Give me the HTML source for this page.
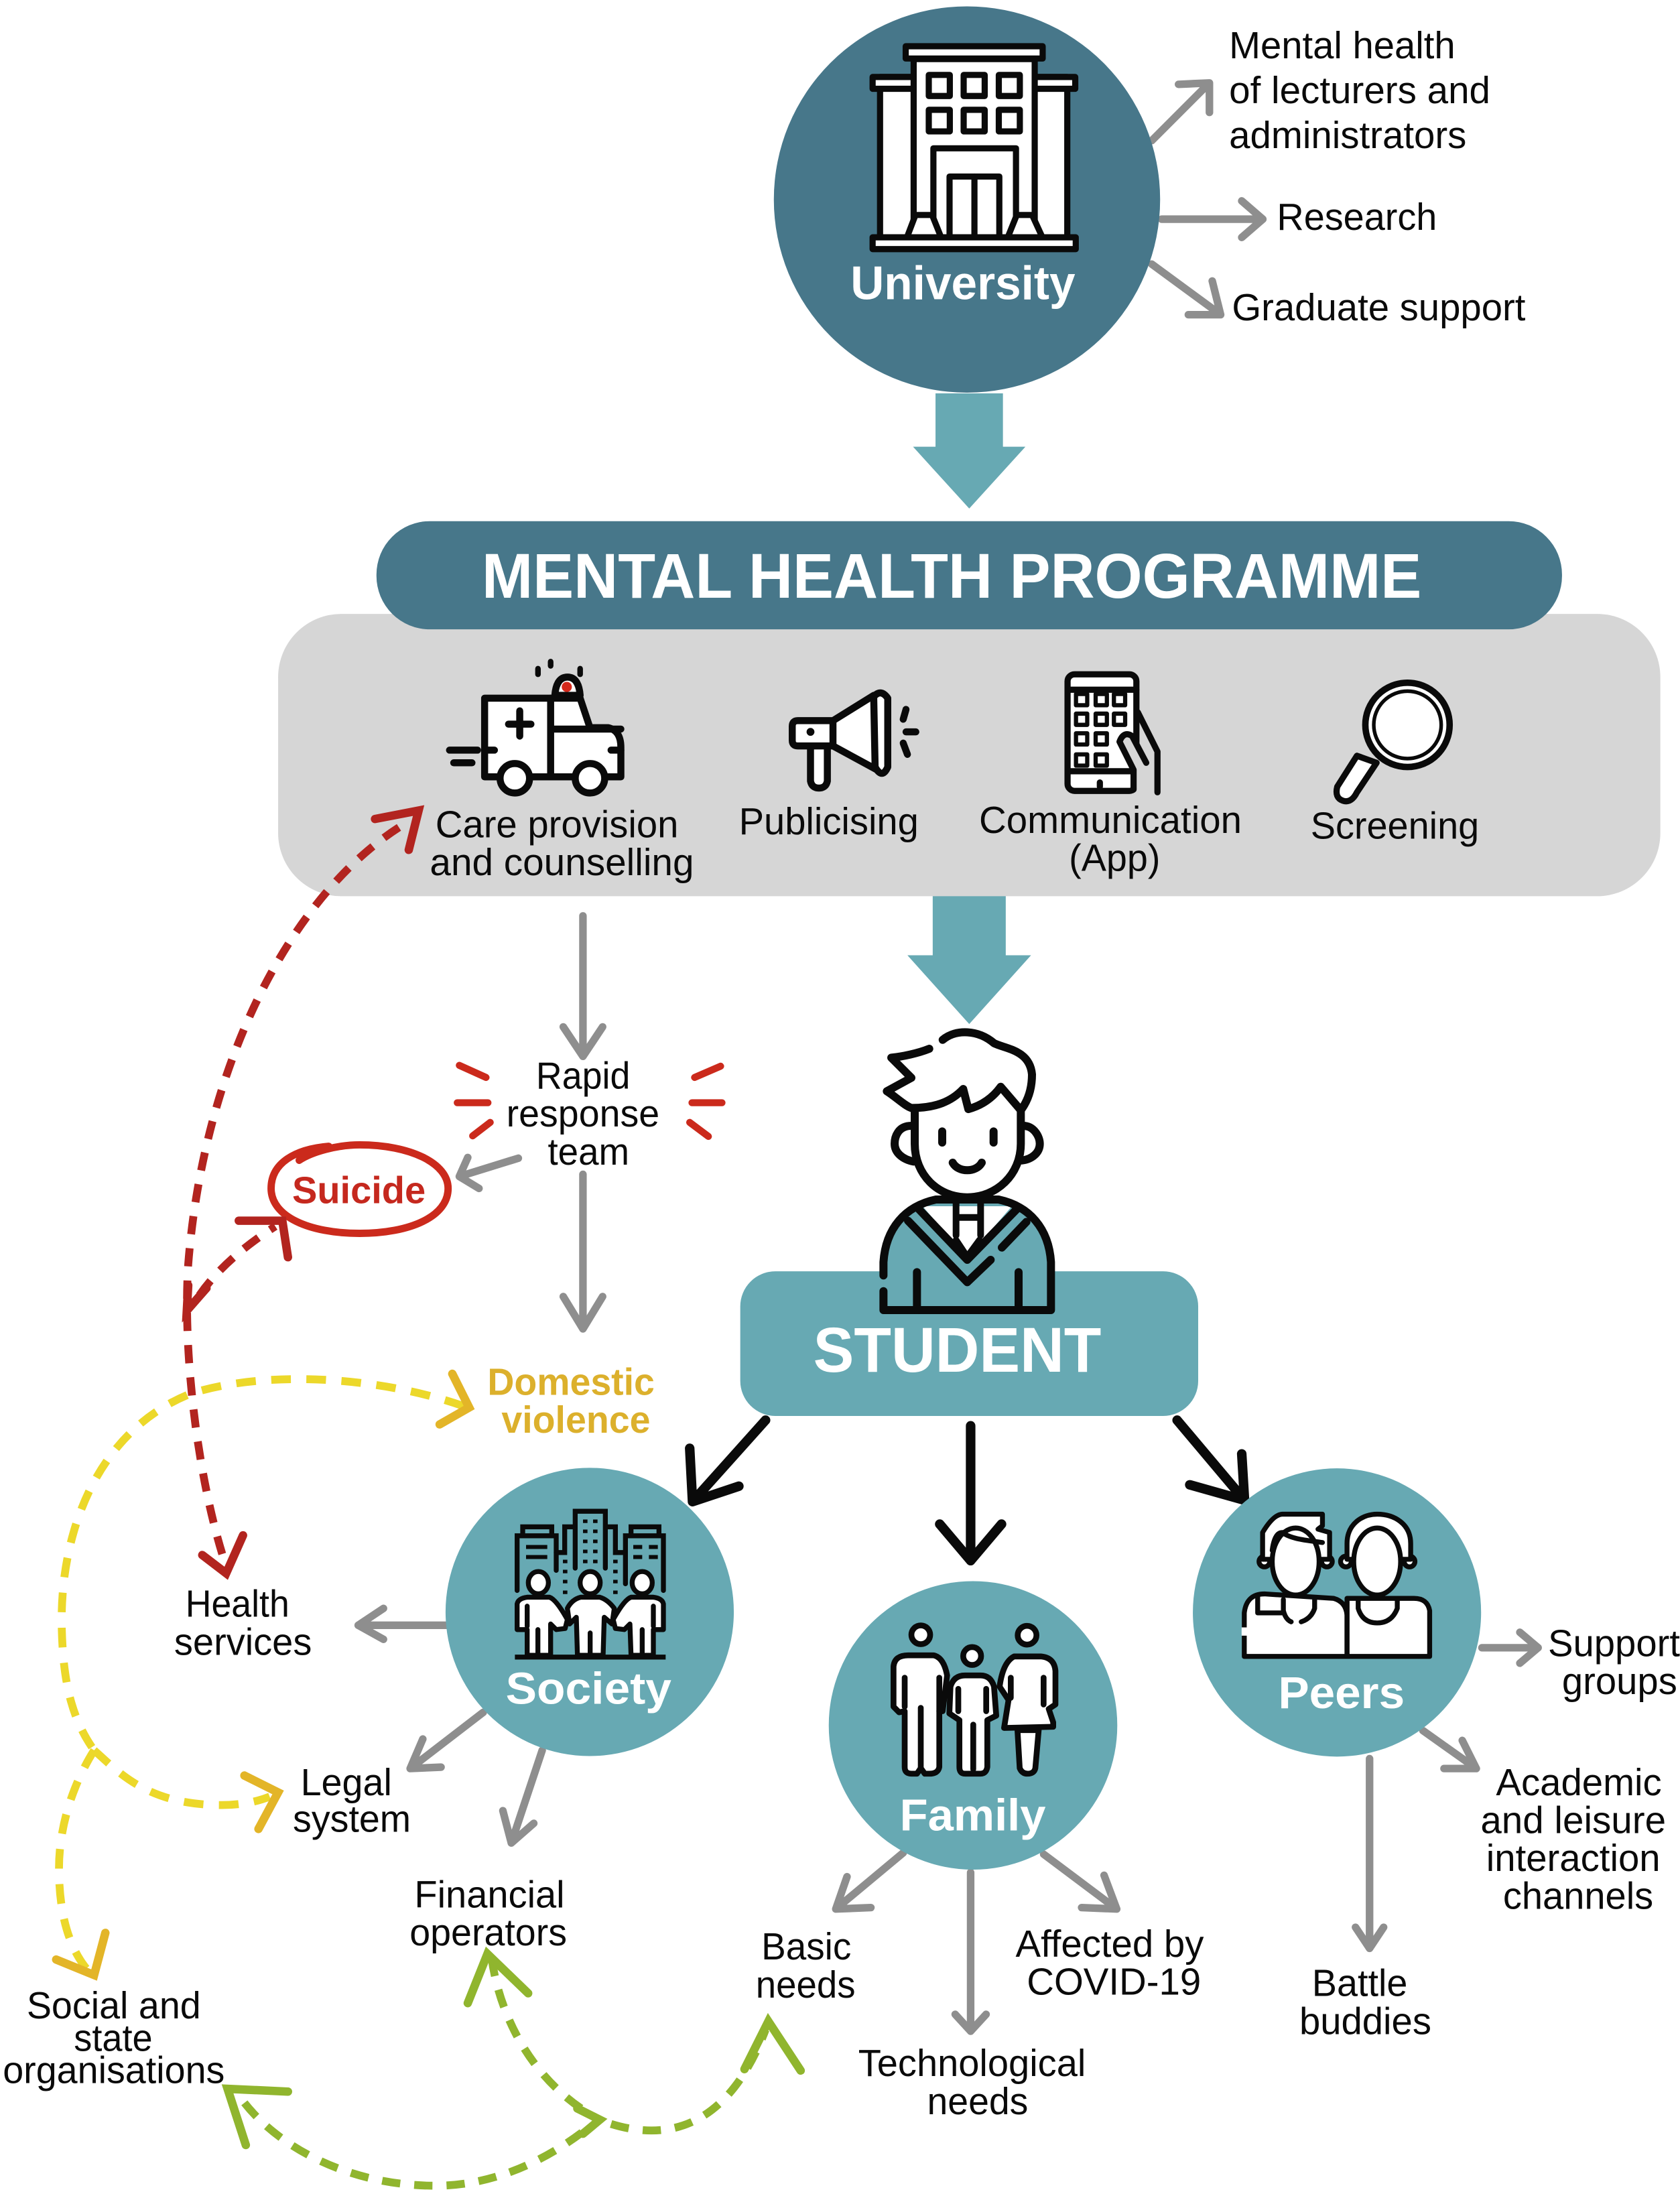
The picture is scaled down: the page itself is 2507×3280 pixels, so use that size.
<!DOCTYPE html>
<html lang="en">
<head>
<meta charset="utf-8">
<title>Mental Health Programme</title>
<style>
html,body{margin:0;padding:0;background:#fff;width:2507px;height:3280px;overflow:hidden}
svg{display:block}
text{font-family:"Liberation Sans",Arial,sans-serif;fill:#0a0a0a;font-size:27px}
.b{font-weight:bold;fill:#fff}
.g{fill:none;stroke:#8e8e8e;stroke-width:5.4;stroke-linecap:round;stroke-linejoin:round}
.k{fill:none;stroke:#0a0a0a;stroke-width:6.8;stroke-linecap:round;stroke-linejoin:round}
.r{fill:none;stroke:#b2241f;stroke-width:5.6;stroke-dasharray:13 10}
.rh{fill:none;stroke:#b2241f;stroke-width:6;stroke-linecap:round;stroke-linejoin:miter}
.y{fill:none;stroke:#ecd82a;stroke-width:5.6;stroke-dasharray:14 11}
.yh{fill:none;stroke:#e3b528;stroke-width:6;stroke-linecap:round;stroke-linejoin:miter}
.gr{fill:none;stroke:#90b52e;stroke-width:5.6;stroke-dasharray:13 10}
.grh{fill:none;stroke:#90b52e;stroke-width:6;stroke-linecap:round;stroke-linejoin:miter}
.i{fill:#fff;stroke:#0a0a0a;stroke-linejoin:round;stroke-linecap:round}
.n{fill:none;stroke:#0a0a0a;stroke-linejoin:round;stroke-linecap:round}
</style>
</head>
<body>
<svg xmlns="http://www.w3.org/2000/svg" width="2507" height="3280" viewBox="0 0 1196 1564.7">
<rect x="0" y="0" width="1196" height="1565" fill="#fff"/>

<!-- big arrows -->
<polygon points="666,280 714,280 714,318 730,318 690,362 650,318 666,318" fill="#67a9b3"/>
<polygon points="664,636 716,636 716,680 734,680 690,729 646,680 664,680" fill="#67a9b3"/>

<!-- University connectors -->
<path class="g" d="M820,100L861,59M839,60L861,59L861,80"/>
<path class="g" d="M827,156L899,156M884,143L899,156L884,169"/>
<path class="g" d="M820,188L869,224M863,200L869,224L846,224"/>

<!-- University -->
<circle cx="688.4" cy="142" r="137.5" fill="#47778a"/>
<g transform="translate(524.8,0) scale(.1826)">
  <g stroke-width="24">
    <rect class="i" x="557" y="300" width="730" height="630"/>
    <rect class="i" x="528" y="300" width="790" height="46"/>
    <rect class="i" x="688" y="230" width="472" height="700"/>
    <rect class="i" x="657" y="180" width="534" height="48"/>
    <rect class="i" x="747" y="292" width="82" height="82"/>
    <rect class="i" x="883" y="292" width="82" height="82"/>
    <rect class="i" x="1020" y="292" width="82" height="82"/>
    <rect class="i" x="747" y="428" width="82" height="84"/>
    <rect class="i" x="883" y="428" width="82" height="84"/>
    <rect class="i" x="1020" y="428" width="82" height="84"/>
    <rect class="i" x="765" y="578" width="322" height="350"/>
    <rect class="i" x="828" y="688" width="194" height="240"/>
    <path class="n" d="M925,688V925"/>
    <path class="i" d="M662,925L695,838H760L795,925Z"/>
    <path class="i" d="M1055,925L1090,838H1150L1190,925Z"/>
    <rect class="i" x="528" y="925" width="792" height="46"/>
  </g>
</g>
<text class="b" x="605.5" y="213" style="font-size:33.5px" textLength="160" lengthAdjust="spacingAndGlyphs">University</text>

<!-- University labels -->
<text x="875" y="41.5" textLength="161" lengthAdjust="spacingAndGlyphs">Mental health</text>
<text x="875" y="73.5" textLength="186" lengthAdjust="spacingAndGlyphs">of lecturers and</text>
<text x="875" y="105.5" textLength="169" lengthAdjust="spacingAndGlyphs">administrators</text>
<text x="909" y="163.5" textLength="114" lengthAdjust="spacingAndGlyphs">Research</text>
<text x="877" y="228" textLength="209" lengthAdjust="spacingAndGlyphs">Graduate support</text>

<!-- grey panel and pill -->
<rect x="198" y="437" width="984" height="201" rx="45" ry="45" fill="#d6d6d6"/>
<rect x="268" y="371" width="844" height="77" rx="38" ry="38" fill="#47778a"/>
<text class="b" x="343" y="425.5" style="font-size:45px" textLength="669" lengthAdjust="spacingAndGlyphs">MENTAL HEALTH PROGRAMME</text>

<!-- ambulance -->
<g stroke-width="5">
  <path class="i" d="M345,497H413L420,518H433Q442,520 442,532V553H345Z"/>
  <path class="n" d="M392,497V553M393,519H442"/>
  <path class="i" d="M395,495Q396,482 404,482Q412,482 413,495Z"/>
  <circle cx="403.5" cy="489" r="3.6" fill="#d5291c"/>
  <path class="n" d="M370,506V524M362,515.5H378" stroke-width="5"/>
  <path class="n" d="M320,534H340M323,543H336M345,534H352M435,534H442" stroke-width="5"/>
  <circle class="i" cx="366.5" cy="554" r="10.5"/>
  <circle class="i" cx="420" cy="554" r="10.5"/>
  <path class="n" d="M392,471V474M383,476V480M413,476V480" stroke-width="4"/>
</g>
<!-- megaphone -->
<g stroke-width="5">
  <path class="i" d="M577,530V556Q578,561 583,561Q588,561 589,556V530Z"/>
  <path class="i" d="M568,513H593L622,495L628,550L593,531H568Q564,531 564,527V517Q564,513 568,513Z"/>
  <path class="i" d="M622,496Q627,490 632,497V546Q628,555 623,546Z"/>
  <path class="n" d="M593,513V531"/>
  <circle cx="577" cy="521" r="2.8" fill="#0a0a0a"/>
  <path class="n" d="M645,505L643,512M645,521H652M643,529L646,537"/>
</g>
<!-- phone -->
<g stroke-width="4.4">
  <rect class="i" x="760" y="480" width="49" height="83" rx="5"/>
  <path class="n" d="M760,491H809M760,549H805"/>
  <path class="n" d="M783,560V557"/>
  <g stroke-width="3">
    <rect class="i" x="766" y="494" width="8" height="8"/><rect class="i" x="780" y="494" width="8" height="8"/><rect class="i" x="793" y="494" width="8" height="8"/>
    <rect class="i" x="766" y="508" width="8" height="8"/><rect class="i" x="780" y="508" width="8" height="8"/><rect class="i" x="793" y="508" width="8" height="8"/>
    <rect class="i" x="766" y="522" width="8" height="8"/><rect class="i" x="780" y="522" width="8" height="8"/>
    <rect class="i" x="766" y="537" width="8" height="8"/><rect class="i" x="780" y="537" width="8" height="8"/>
  </g>
  <path d="M807,564V546L797,527Q800,520 806,523L817,540L824,540V564Z" fill="#d6d6d6" stroke="none"/>
  <path class="n" d="M807,562V548L797,528Q800,520 806,524L816,543M810,507L824,535V564"/>
</g>
<!-- magnifier -->
<g>
  <path class="i" d="M966,538L952,560Q950,568 956,570Q962,572 966,564L980,543Z" stroke-width="4.4"/>
  <circle cx="1002" cy="516" r="30" fill="#fff" stroke="#0a0a0a" stroke-width="4.6"/>
  <circle cx="1002" cy="516" r="24" fill="#fff" stroke="#0a0a0a" stroke-width="2.6"/>
</g>

<text x="310" y="596" textLength="173" lengthAdjust="spacingAndGlyphs">Care provision</text>
<text x="306" y="623" textLength="188" lengthAdjust="spacingAndGlyphs">and counselling</text>
<text x="526" y="594" textLength="128" lengthAdjust="spacingAndGlyphs">Publicising</text>
<text x="697" y="593" textLength="187" lengthAdjust="spacingAndGlyphs">Communication</text>
<text x="761" y="620" textLength="65" lengthAdjust="spacingAndGlyphs">(App)</text>
<text x="933" y="597" textLength="120" lengthAdjust="spacingAndGlyphs">Screening</text>

<!-- student box -->
<rect x="527" y="905" width="326" height="103" rx="25" ry="25" fill="#67a9b3"/>
<!-- student icon -->
<g transform="translate(572.5,715.6) scale(.159)" stroke-width="36">
  <path fill="#fff" stroke="none" d="M380,240L620,150L800,120L1010,230L1020,400L970,620C970,760 860,860 730,860C600,860 495,760 495,620V470Z"/>
  <path class="n" d="M620,155C680,105 780,110 850,170C900,195 1010,200 1020,310C1020,380 1000,430 970,470L880,365C840,420 790,450 735,465L712,375C660,430 590,460 480,460C450,450 410,410 370,385L480,325L390,235C440,230 510,215 560,195"/>
  <path class="n" d="M495,480V620C495,760 600,860 730,860C860,860 970,760 970,620V470"/>
  <path class="n" d="M480,540C420,540 405,590 405,620C405,660 440,690 490,700M980,540C1030,540 1055,590 1055,620C1055,660 1020,690 975,695"/>
  <path class="n" d="M618,565V615M848,565V615"/>
  <path class="n" d="M665,705C690,750 770,750 795,705"/>
  <path d="M355,1365V1150C365,1000 450,900 590,870H870C1010,900 1095,1000 1105,1150V1365Z" fill="#67a9b3" stroke="none"/>
  <path d="M530,900H930L730,1130Z" fill="#fff" stroke="none"/>
  <path class="n" d="M355,1210V1150C365,1000 450,900 590,870H870C1010,900 1095,1000 1105,1150V1365H355V1280"/>
  <path class="n" d="M465,965L730,1240L835,1140M885,1085L995,970"/>
  <path class="n" d="M515,915L730,1140L950,915"/>
  <path class="n" d="M505,1195V1365M960,1195V1365"/>
  <path class="n" d="M680,880V1030M790,880V1030M680,950H790" stroke-width="30"/>
  <path class="n" d="M680,1050L730,1125L785,1050" stroke-width="28"/>
</g>
<text class="b" x="579" y="976.5" style="font-size:45px" textLength="205" lengthAdjust="spacingAndGlyphs">STUDENT</text>

<!-- black arrows -->
<path class="k" d="M545,1011L493,1069M491,1031L493,1069L526,1058"/>
<path class="k" d="M691,1015V1111M669,1085L691,1111L713,1085"/>
<path class="k" d="M838,1011L886,1068M847,1057L886,1068L884,1035"/>

<!-- rapid response connectors -->
<path class="g" d="M415,652V752M401,731L415,752L429,731"/>
<path class="g" d="M415,836V946M401,923L415,946L429,923"/>
<path class="g" d="M369,824.5L327,837.5M333,824L327,837.5L341,846"/>
<path d="M327,758.4L346,767M325.5,785H347.4M336.5,808.6L349,799M513,759L494.5,767M492.6,785H514M491,799L504.3,809" fill="none" stroke="#cb2a1c" stroke-width="5" stroke-linecap="round"/>
<text x="381.6" y="775" textLength="67" lengthAdjust="spacingAndGlyphs">Rapid</text>
<text x="360.5" y="802" textLength="109" lengthAdjust="spacingAndGlyphs">response</text>
<text x="390" y="829" textLength="58" lengthAdjust="spacingAndGlyphs">team</text>

<!-- suicide -->
<path d="M234,816C210,818 193,828 193,846C193,866 220,878 256,878C292,878 319,866 319,846C319,828 292,815 256,815C240,815 222,820 213,826" fill="none" stroke="#cb2a1c" stroke-width="5.2" stroke-linecap="round"/>
<text x="208" y="856.5" style="font-size:27px;font-weight:bold;fill:#c5281e" textLength="95" lengthAdjust="spacingAndGlyphs">Suicide</text>
<text x="347" y="993" style="font-size:27px;font-weight:bold;fill:#dcb02c" textLength="119" lengthAdjust="spacingAndGlyphs">Domestic</text>
<text x="357" y="1020" style="font-size:27px;font-weight:bold;fill:#dcb02c" textLength="106" lengthAdjust="spacingAndGlyphs">violence</text>

<!-- red dashed -->
<path class="r" d="M284,589C205,640 145,760 134,900C130,960 140,1050 160,1112"/>
<path class="rh" d="M267,583L298,577L291,605"/>
<path class="rh" d="M144,1107L161,1120L173,1093"/>
<path class="r" d="M142,922Q160,896 196,873"/>
<path class="rh" d="M170,869L201,869L205,895"/>
<path class="rh" d="M147,917L133,933L134,915"/>

<!-- yellow dashed -->
<path class="y" d="M330,1001C270,980 190,975 136,992C70,1018 42,1090 44,1160C45,1200 52,1225 67,1246"/>
<path class="yh" d="M322,978L334,1002L313,1014"/>
<path class="y" d="M67,1246C52,1270 42,1300 42,1330C42,1360 48,1385 62,1402"/>
<path class="yh" d="M75,1376L67,1406L40,1395"/>
<path class="y" d="M67,1246C85,1262 105,1285 158,1285C170,1285 182,1283 192,1279"/>
<path class="yh" d="M174,1264L198,1276L184,1302"/>

<!-- green dashed -->
<path class="gr" d="M174,1497C200,1530 250,1556 310,1556C360,1556 400,1530 422,1512"/>
<path class="grh" d="M205,1489L162,1487L175,1527"/>
<path class="gr" d="M350,1394C355,1430 375,1480 425,1508"/>
<path class="grh" d="M333,1426L347,1391L376,1419"/>
<path class="grh" d="M411,1501L427,1509L415,1519"/>
<path class="gr" d="M435,1512C480,1526 520,1510 545,1445"/>
<path class="grh" d="M530,1473L547,1439L570,1474"/>

<!-- sub connectors -->
<path class="g" d="M320,1157H255M273,1145L255,1157L273,1167"/>
<path class="g" d="M344,1219L292,1259M301,1238L292,1259L314,1258"/>
<path class="g" d="M386,1246L364,1312M358,1289L364,1312L380,1298"/>
<path class="g" d="M643,1319L595,1359M603,1336L595,1359L620,1358"/>
<path class="g" d="M691,1333V1446M680,1434L691,1446L702,1434"/>
<path class="g" d="M743,1320L795,1359M786,1335L795,1359L770,1358"/>
<path class="g" d="M1055,1173H1095M1082,1162L1095,1173L1082,1184"/>
<path class="g" d="M1013,1232L1051,1259M1041,1239L1051,1259L1028,1259"/>
<path class="g" d="M975,1252V1387M965,1372L975,1387L985,1372"/>

<!-- Society -->
<circle cx="419.8" cy="1147.5" r="102.6" fill="#67a9b3"/>
<g transform="translate(295.8,1030.5) scale(.159)" stroke-width="22">
  <path class="n" d="M455,640V395H630V550M480,395V355H610V395" style="stroke-linejoin:miter"/>
  <path class="n" d="M495,445H590M495,490H590" stroke-width="18" style="stroke-linecap:butt"/>
  <path class="n" d="M715,540V285H850V540M715,355H668V470H630M850,355H895V470H940" style="stroke-linejoin:miter"/>
  <path class="n" d="M940,610V395H1110V640M965,395V355H1090V395" style="stroke-linejoin:miter"/>
  <path class="n" d="M975,445H1015M1045,445H1085M975,490H1015M1045,490H1085" stroke-width="18" style="stroke-linecap:butt"/>
  <path class="n" d="M750,330H770M795,330H815M750,375H770M795,375H815M750,420H770M795,420H815M750,465H770M795,465H815M750,510H770M795,510H815M660,510H680M885,510H905M660,555H680M885,555H905M660,600H680M885,600H905M660,648H680M885,648H905" stroke-width="16" style="stroke-linecap:butt"/>
  <path class="n" d="M445,938H1120" stroke-width="22" style="stroke-linecap:butt"/>
  <ellipse class="i" cx="550" cy="605" rx="45" ry="50"/>
  <ellipse class="i" cx="782" cy="605" rx="45" ry="50"/>
  <ellipse class="i" cx="1015" cy="605" rx="45" ry="50"/>
  <path class="i" d="M455,815V700Q460,675 500,670H600Q630,680 680,770L670,810L630,815L605,790V930H500V815Z"/>
  <path class="i" d="M680,720Q700,680 740,670H825Q860,680 890,720L880,790L845,760L840,930H725L720,760L690,790Z"/>
  <path class="i" d="M1110,815V700Q1105,675 1065,670H965Q935,680 885,770L895,810L935,815L960,790L965,930H1065V815Z"/>
  <path class="n" d="M548,815V930M782,830V930M1015,815V930M500,710V800M1065,710V800"/>
</g>
<text class="b" x="360" y="1213" style="font-size:32px" textLength="118" lengthAdjust="spacingAndGlyphs">Society</text>

<!-- Family -->
<circle cx="692.7" cy="1228.3" r="102.7" fill="#67a9b3"/>
<g transform="translate(572.5,1116.4) scale(.159)" stroke-width="26">
  <circle class="i" cx="522" cy="298" r="42"/>
  <circle class="i" cx="752" cy="393" r="40"/>
  <circle class="i" cx="998" cy="300" r="42"/>
  <path class="i" d="M400,620V440Q405,390 465,390H580Q625,400 640,480L620,640H605V890Q600,920 560,920H540L522,895L505,920H480Q450,920 450,890V640L425,645Z"/>
  <path class="n" d="M450,490V620M605,490V640M522,625V890"/>
  <path class="i" d="M650,650L655,530Q670,480 720,480H790Q835,480 850,530L860,660L820,680V890Q815,920 790,920H720Q695,920 695,890V680Z"/>
  <path class="n" d="M690,540V640M815,540V640M757,700V900"/>
  <path class="i" d="M955,725L965,895Q975,920 1000,920Q1030,920 1035,895L1050,725Z"/>
  <path class="i" d="M875,530Q890,420 940,395H1060Q1120,400 1125,460V610L1095,630L1115,690V710L895,715L915,590Z"/>
  <path class="n" d="M925,490V580M1072,490V610"/>
</g>
<text class="b" x="640.5" y="1303" style="font-size:32px" textLength="104" lengthAdjust="spacingAndGlyphs">Family</text>

<!-- Peers -->
<circle cx="951.8" cy="1147.9" r="102.6" fill="#67a9b3"/>
<g transform="translate(839.7,1035.3) scale(.159)" stroke-width="22">
  <path class="i" d="M290,905V710Q300,625 380,625L690,645Q745,660 750,720V905Z"/>
  <path class="i" d="M750,905H1120V700Q1110,645 1050,645H750Z"/>
  <path class="n" d="M350,630V710H460M750,660V905"/>
  <path class="n" d="M465,650V700Q475,740 500,750M605,650V690Q590,735 545,750M800,650V690Q820,755 885,755Q950,755 975,690V650"/>
  <circle class="i" cx="380" cy="480" r="24"/>
  <circle class="i" cx="660" cy="480" r="24"/>
  <circle class="i" cx="745" cy="480" r="24"/>
  <circle class="i" cx="1030" cy="480" r="24"/>
  <path class="i" d="M372,470V350Q420,270 460,268H640V320L620,335L672,350V470Z"/>
  <path class="i" d="M750,470V400C750,310 820,268 885,268C960,268 1035,310 1035,400V470Z"/>
  <ellipse class="i" cx="520" cy="480" rx="105" ry="150"/>
  <ellipse class="i" cx="885" cy="480" rx="105" ry="150"/>
  <path class="n" d="M415,430Q425,350 460,350C500,380 570,385 640,395"/>
  <path d="M278,775H302V812H278Z" fill="#fff"/>
</g>
<text class="b" x="910" y="1216" style="font-size:32px" textLength="90" lengthAdjust="spacingAndGlyphs">Peers</text>

<!-- lower labels -->
<text x="132" y="1151" textLength="74" lengthAdjust="spacingAndGlyphs">Health</text>
<text x="124" y="1178" textLength="98" lengthAdjust="spacingAndGlyphs">services</text>
<text x="214" y="1278" textLength="65" lengthAdjust="spacingAndGlyphs">Legal</text>
<text x="208.5" y="1304" textLength="84" lengthAdjust="spacingAndGlyphs">system</text>
<text x="295" y="1358" textLength="107" lengthAdjust="spacingAndGlyphs">Financial</text>
<text x="291.6" y="1385" textLength="112" lengthAdjust="spacingAndGlyphs">operators</text>
<text x="19" y="1437" textLength="124" lengthAdjust="spacingAndGlyphs">Social and</text>
<text x="52.6" y="1460" textLength="56" lengthAdjust="spacingAndGlyphs">state</text>
<text x="2" y="1483" textLength="158" lengthAdjust="spacingAndGlyphs">organisations</text>
<text x="542" y="1395" textLength="64" lengthAdjust="spacingAndGlyphs">Basic</text>
<text x="538" y="1422" textLength="71" lengthAdjust="spacingAndGlyphs">needs</text>
<text x="723" y="1393" textLength="134" lengthAdjust="spacingAndGlyphs">Affected by</text>
<text x="731" y="1420" textLength="124" lengthAdjust="spacingAndGlyphs">COVID-19</text>
<text x="611" y="1478" textLength="162" lengthAdjust="spacingAndGlyphs">Technological</text>
<text x="660" y="1505" textLength="72" lengthAdjust="spacingAndGlyphs">needs</text>
<text x="1102" y="1179" textLength="94" lengthAdjust="spacingAndGlyphs">Support</text>
<text x="1112" y="1206" textLength="82" lengthAdjust="spacingAndGlyphs">groups</text>
<text x="1065" y="1278" textLength="118" lengthAdjust="spacingAndGlyphs">Academic</text>
<text x="1054" y="1305" textLength="132" lengthAdjust="spacingAndGlyphs">and leisure</text>
<text x="1058" y="1332" textLength="124" lengthAdjust="spacingAndGlyphs">interaction</text>
<text x="1070" y="1359" textLength="107" lengthAdjust="spacingAndGlyphs">channels</text>
<text x="934" y="1421" textLength="68" lengthAdjust="spacingAndGlyphs">Battle</text>
<text x="925" y="1448" textLength="94" lengthAdjust="spacingAndGlyphs">buddies</text>
</svg>
</body>
</html>
